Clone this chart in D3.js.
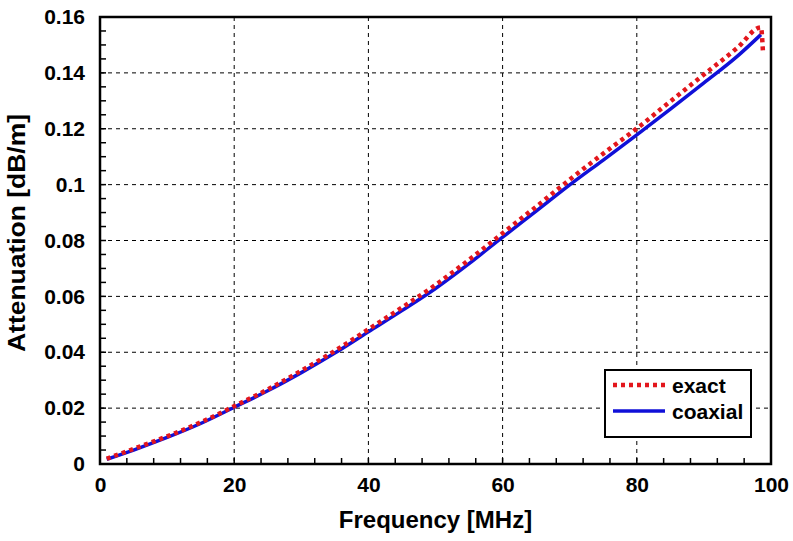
<!DOCTYPE html>
<html><head><meta charset="utf-8">
<script src="https://cdn.jsdelivr.net/npm/d3@7"></script>
<style>body{margin:0;background:#fff}svg{display:block}text{font-family:"Liberation Sans",Arial,sans-serif;font-weight:bold;fill:#000}</style>
</head><body>
<svg id="c" width="793" height="541"></svg>
<script>
const coaxFreq = [1,5,10,15,20,25,30,35,40,45,50,55,60,65,70,75,80,85,90,95,98.5];
const coaxial  = [0.0017,0.0050,0.0095,0.0145,0.0203,0.0262,0.0327,0.0397,0.0473,0.0549,0.0628,0.0717,0.0812,0.0905,0.0999,0.1088,0.1178,0.1270,0.1364,0.1460,0.1537];
const exactFreq = [1,5,10,15,20,25,30,35,40,45,50,55,60,65,70,75,80,85,90,95,98.5,98.8];
const exact     = [0.0019,0.0054,0.0099,0.0149,0.0207,0.0267,0.0334,0.0405,0.0482,0.0560,0.0641,0.0731,0.0826,0.0921,0.1018,0.1111,0.1201,0.1298,0.1394,0.1490,0.1563,0.1476];
const xTicks = [0,20,40,60,80,100];
const yTicks = [0,0.02,0.04,0.06,0.08,0.1,0.12,0.14,0.16];
const seriesNames = ["exact","coaxial"];

const svg = d3.select("#c");
const L=100,R=771,T=17,B=464;
const x = d3.scaleLinear().domain([0,100]).range([L,R]);
const y = d3.scaleLinear().domain([0,0.16]).range([B,T]);

// grid
const g = svg.append("g");
g.selectAll(".gx").data(xTicks.slice(1,-1)).join("line")
 .attr("x1",d=>x(d)).attr("x2",d=>x(d)).attr("y1",T).attr("y2",B)
 .attr("stroke","#000").attr("stroke-width",1).attr("stroke-dasharray","4,4");
g.selectAll(".gy").data(yTicks.slice(1,-1)).join("line")
 .attr("y1",d=>y(d)).attr("y2",d=>y(d)).attr("x1",L).attr("x2",R)
 .attr("stroke","#000").attr("stroke-width",1).attr("stroke-dasharray","4,4");

// ticks inward
const xMinor = d3.range(0,101,4);
svg.append("g").selectAll("line").data(xMinor).join("line")
 .attr("x1",d=>x(d)).attr("x2",d=>x(d)).attr("y1",B).attr("y2",B-6)
 .attr("stroke","#000").attr("stroke-width",1.5);
const yMinor = d3.range(0,33).map(i=>i*0.005);
svg.append("g").selectAll("line").data(yMinor).join("line")
 .attr("y1",d=>y(d)).attr("y2",d=>y(d)).attr("x1",L).attr("x2",L+6)
 .attr("stroke","#000").attr("stroke-width",1.5);

const font = '"Liberation Sans",Arial,sans-serif';
const xAxis = svg.append("g").attr("transform",`translate(0,${B})`)
 .call(d3.axisBottom(x).tickValues(xTicks).tickSize(0).tickPadding(13).tickFormat(d3.format("d")));
xAxis.select(".domain").remove();
xAxis.selectAll("text").style("font-size","21px").style("font-family",font).style("font-weight","bold").attr("fill","#000");
const yAxis = svg.append("g").attr("transform",`translate(${L},0)`)
 .call(d3.axisLeft(y).tickValues(yTicks).tickSize(0).tickPadding(15).tickFormat(d=>d===0?"0":String(+d.toFixed(2))));
yAxis.select(".domain").remove();
yAxis.selectAll("text").style("font-size","21px").style("font-family",font).style("font-weight","bold").attr("fill","#000");

// lines
const line = d3.line().x(d=>x(d[0])).y(d=>y(d[1])).curve(d3.curveMonotoneX);
svg.append("path").datum(coaxFreq.map((f,i)=>[f,coaxial[i]]))
 .attr("d",line).attr("fill","none").attr("stroke","#1010d8").attr("stroke-width",3.5);
svg.append("path").datum(exactFreq.map((f,i)=>[f,exact[i]]))
 .attr("d",line).attr("fill","none").attr("stroke","#e3161c").attr("stroke-width",4.5).attr("stroke-dasharray","4,4");

// frame
svg.append("rect").attr("x",L).attr("y",T).attr("width",R-L).attr("height",B-T)
 .attr("fill","none").attr("stroke","#000").attr("stroke-width",2.5);

// titles
svg.append("text").attr("x",(L+R)/2).attr("y",528).attr("text-anchor","middle")
 .style("font-size","24px").text("Frequency [MHz]");
svg.append("text").attr("transform","translate(25,233) rotate(-90)").attr("text-anchor","middle")
 .style("font-size","23px").attr("textLength",238).attr("lengthAdjust","spacingAndGlyphs").text("Attenuation [dB/m]");

// legend
const lg = svg.append("g");
lg.append("rect").attr("x",605).attr("y",370).attr("width",146).attr("height",67)
 .attr("fill","#fff").attr("stroke","#000").attr("stroke-width",2);
const lgY=[385,411], cols=["#e3161c","#1010d8"];
seriesNames.forEach((n,i)=>{
  lg.append("line").attr("x1",613).attr("x2",665).attr("y1",lgY[i]).attr("y2",lgY[i])
   .attr("stroke",cols[i]).attr("stroke-width",i===0?4.5:3.5).attr("stroke-dasharray",i===0?"4,4":null);
  lg.append("text").attr("x",672).attr("y",lgY[i]+8).style("font-size","21px").text(n);
});
</script>
</body></html>
